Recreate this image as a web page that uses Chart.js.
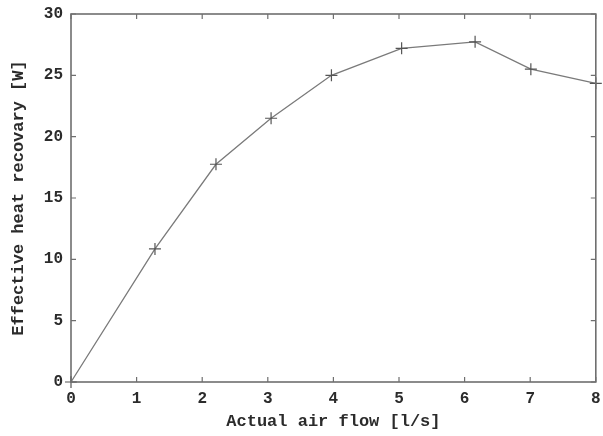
<!DOCTYPE html>
<html>
<head>
<meta charset="utf-8">
<script src="https://cdn.jsdelivr.net/npm/chart.js@4.4.0/dist/chart.umd.min.js"></script>
<style>
  html, body { margin: 0; padding: 0; background: #fff; }
  #wrap { width: 603px; height: 436px; }
</style>
</head>
<body>
<div id="wrap"><canvas id="heatChart" width="603" height="436"></canvas></div>
<script>
// measured air flow [l/s] vs effective heat recovery [W]
var airFlow = [0, 1.28, 2.21, 3.05, 3.97, 5.04, 6.16, 7.01, 8.0];
var heatRecovery = [0, 10.85, 17.75, 21.5, 25.0, 27.2, 27.73, 25.5, 24.35];

var xTicks = [0, 1, 2, 3, 4, 5, 6, 7, 8];
var yTicks = [0, 5, 10, 15, 20, 25, 30];

var frameColor = '#6f6f6f';
var lineColor = '#7a7a7a';
var textColor = '#2b2b2b';
var monoFont = '"Liberation Mono", "DejaVu Sans Mono", monospace';

// gnuplot-style box: frame + inward ticks on all four sides
var framePlugin = {
  id: 'frame',
  afterDatasetsDraw: function (chart) {
    var ctx = chart.ctx;
    var a = chart.chartArea;
    var xs = chart.scales.x;
    var ys = chart.scales.y;
    var len = 5;
    ctx.save();
    ctx.strokeStyle = frameColor;
    ctx.lineWidth = 1.6;
    ctx.strokeRect(a.left, a.top, a.right - a.left, a.bottom - a.top);
    ctx.lineWidth = 1.2;
    ctx.beginPath();
    xTicks.forEach(function (v) {
      var px = xs.getPixelForValue(v);
      ctx.moveTo(px, a.bottom); ctx.lineTo(px, a.bottom - len);
      ctx.moveTo(px, a.top); ctx.lineTo(px, a.top + len);
    });
    yTicks.forEach(function (v) {
      var py = ys.getPixelForValue(v);
      ctx.moveTo(a.left, py); ctx.lineTo(a.left + len, py);
      ctx.moveTo(a.right, py); ctx.lineTo(a.right - len, py);
    });
    ctx.stroke();
    ctx.restore();
  }
};

new Chart(document.getElementById('heatChart'), {
  type: 'scatter',
  data: {
    datasets: [{
      data: airFlow.map(function (x, i) { return { x: x, y: heatRecovery[i] }; }),
      showLine: true,
      borderColor: lineColor,
      borderWidth: 1.3,
      pointStyle: 'cross',
      pointRadius: 6,
      pointBorderColor: '#555',
      pointBorderWidth: 1.2,
      pointBackgroundColor: 'transparent',
      tension: 0,
      clip: false
    }]
  },
  options: {
    responsive: false,
    animation: false,
    layout: { padding: { top: 14, right: 5, left: 0, bottom: 0 } },
    plugins: { legend: { display: false }, tooltip: { enabled: false } },
    scales: {
      x: {
        type: 'linear',
        min: 0,
        max: 8,
        afterBuildTicks: function (s) { s.ticks = xTicks.map(function (v) { return { value: v }; }); },
        afterFit: function (s) { s.height = 54; s.paddingLeft = 0; s.paddingRight = 0; },
        grid: { display: false, drawTicks: false },
        border: { display: false },
        ticks: { color: textColor, padding: 7, font: { family: monoFont, size: 16, weight: 'bold' } },
        title: {
          display: true,
          text: 'Actual air flow [l/s]',
          color: textColor,
          padding: { top: 6 },
          font: { family: monoFont, size: 17, weight: 'bold' }
        }
      },
      y: {
        type: 'linear',
        min: 0,
        max: 30,
        afterBuildTicks: function (s) { s.ticks = yTicks.map(function (v) { return { value: v }; }); },
        afterFit: function (s) { s.width = 71; s.paddingTop = 0; s.paddingBottom = 0; },
        grid: { display: false, drawTicks: false },
        border: { display: false },
        ticks: { color: textColor, padding: 8, font: { family: monoFont, size: 16, weight: 'bold' } },
        title: {
          display: true,
          text: 'Effective heat recovary [W]',
          color: textColor,
          padding: { top: 9, bottom: 4 },
          font: { family: monoFont, size: 17, weight: 'bold' }
        }
      }
    }
  },
  plugins: [framePlugin]
});
</script>
</body>
</html>
